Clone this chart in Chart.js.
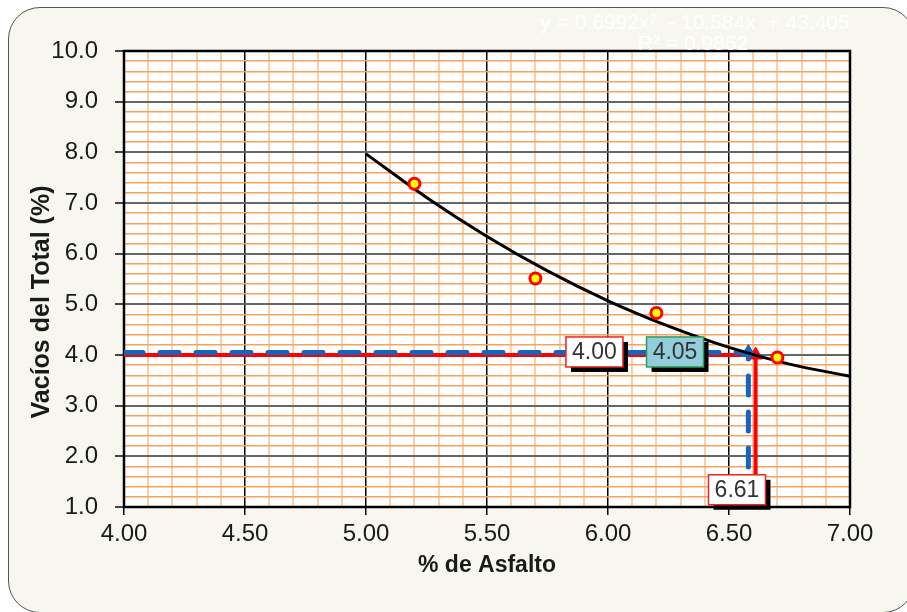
<!DOCTYPE html>
<html>
<head>
<meta charset="utf-8">
<script src="https://cdn.jsdelivr.net/npm/chart.js@4.4.1/dist/chart.umd.min.js"></script>
<style>
  body { margin: 0; background: #ffffff; width: 907px; height: 612px; overflow: hidden; position: relative; }
  #frame { position: absolute; left: 8px; top: 7px; width: 905px; height: 604px; border: 1.5px solid #555; border-radius: 32px; background: #f7f7f0; }
  #wrap { position: absolute; left: 0; top: 0; width: 907px; height: 612px; }
</style>
</head>
<body>
<div id="frame"></div>
<div id="wrap"><canvas id="vaciosChart" width="907" height="612"></canvas></div>
<script>
// axis ranges
const xMin = 4.0, xMax = 7.0, xStep = 0.1;
const yMin = 1.0, yMax = 10.0, yStep = 0.2;

// lab points: % asphalt vs air voids
const asfalto = [5.2, 5.7, 6.2, 6.7];
const vacios = [7.38, 5.51, 4.83, 3.95];

// polynomial trend
const trendX = [5.0, 5.25, 5.5, 5.75, 6.0, 6.25, 6.5, 6.75, 7.0];
const trendY = [7.97, 7.11, 6.34, 5.66, 5.07, 4.57, 4.15, 3.82, 3.58];

// target 4.0 % voids -> 6.61 % asphalt
const targetX = [4.0, 6.61, 6.61];
const targetY = [4.0, 4.0, 1.0];
// dashed 4.05 line
const designX = [4.0, 6.58, 6.58];
const designY = [4.05, 4.05, 1.0];

const boxTexts = ['4.00', '4.05', '6.61'];
const equationLines = ['y = 0.6992x\u00b2  - 10.584x  + 43.405', 'R\u00b2 = 0.9862'];
const xTitle = '% de Asfalto';
const yTitle = 'Vacíos del Total (%)';

const pts = (xs, ys) => xs.map((x, i) => ({ x: x, y: ys[i] }));
const isMajorX = v => Math.round(v * 10) % 5 === 0;
const isMajorY = v => Math.round(v * 10) % 10 === 0;

// label boxes, anchored in data units
const boxSpots = [
    { x: 5.944, y: 4.06, fill: '#ffffff', stroke: '#ee2222' },
    { x: 6.277, y: 4.06, fill: '#92cddc', stroke: '#2e9a5a' },
    { x: 6.533, y: 1.34, fill: '#ffffff', stroke: '#ee2222' }
];

const fontName = '"Liberation Sans", Arial, sans-serif';

const decorPlugin = {
    id: 'decor',
    beforeDraw(chart) {
        const { ctx, chartArea: a } = chart;
        ctx.save();
        ctx.fillStyle = '#ffffff';
        ctx.fillRect(a.left, a.top, a.right - a.left, a.bottom - a.top);
        ctx.restore();
    },
    beforeDatasetsDraw(chart) {
        const { ctx, chartArea: a } = chart;
        ctx.save();
        ctx.strokeStyle = '#000';
        ctx.lineWidth = 2.5;
        ctx.strokeRect(a.left, a.top, a.right - a.left, a.bottom - a.top);
        ctx.restore();
    },
    afterDatasetsDraw(chart) {
        const { ctx } = chart;
        const xs = chart.scales.x, ys = chart.scales.y;
        ctx.save();
        boxSpots.forEach((b, i) => {
            const cx = xs.getPixelForValue(b.x), cy = ys.getPixelForValue(b.y);
            const w = 57, h = 30;
            ctx.fillStyle = '#000';
            ctx.fillRect(cx - w / 2 + 5, cy - h / 2 + 5, w, h);
            ctx.fillStyle = b.fill;
            ctx.fillRect(cx - w / 2, cy - h / 2, w, h);
            ctx.strokeStyle = b.stroke;
            ctx.lineWidth = 1.5;
            ctx.strokeRect(cx - w / 2, cy - h / 2, w, h);
            ctx.fillStyle = '#333';
            ctx.font = '23px ' + fontName;
            ctx.textAlign = 'center';
            ctx.textBaseline = 'middle';
            ctx.fillText(boxTexts[i], cx, cy + 1);
        });
        ctx.restore();
    },
    afterDraw(chart) {
        const { ctx } = chart;
        ctx.save();
        // y axis title
        ctx.translate(42, 302);
        ctx.rotate(-Math.PI / 2);
        ctx.font = 'bold 25px ' + fontName;
        ctx.fillStyle = '#1a1a1a';
        ctx.textAlign = 'center';
        ctx.textBaseline = 'middle';
        ctx.fillText(yTitle, 0, 0);
        ctx.restore();
        // trend equation, white
        ctx.save();
        ctx.font = '21px ' + fontName;
        ctx.fillStyle = '#ffffff';
        ctx.textAlign = 'center';
        ctx.textBaseline = 'middle';
        ctx.fillText(equationLines[0], 695, 23);
        ctx.fillText(equationLines[1], 693, 44);
        ctx.restore();
    }
};

new Chart('vaciosChart', {
    type: 'scatter',
    data: {
        datasets: [
            {
                label: 'Ensayos',
                data: pts(asfalto, vacios),
                pointRadius: 5.5,
                pointBorderWidth: 3,
                pointBackgroundColor: '#ffff00',
                pointBorderColor: '#ff0000',
                showLine: false,
                order: 0
            },
            {
                label: 'Tendencia',
                data: pts(trendX, trendY),
                showLine: true,
                borderColor: '#000',
                borderWidth: 3,
                pointRadius: 0,
                cubicInterpolationMode: 'monotone',
                order: 1
            },
            {
                label: '4.05',
                data: pts(designX, designY),
                showLine: true,
                borderColor: '#1565c0',
                borderWidth: 5,
                borderDash: [19, 17],
                borderCapStyle: 'round',
                pointStyle: 'triangle',
                pointRadius: [0, 8, 0],
                pointBackgroundColor: '#1565c0',
                pointBorderColor: '#1565c0',
                pointBorderWidth: 1,
                order: 2
            },
            {
                label: '4.00',
                data: pts(targetX, targetY),
                showLine: true,
                borderColor: '#ff0000',
                borderWidth: 4,
                pointStyle: 'triangle',
                pointRadius: [0, 8, 0],
                pointBackgroundColor: '#ff0000',
                pointBorderColor: '#ff0000',
                pointBorderWidth: 1,
                order: 3
            }
        ]
    },
    options: {
        animation: false,
        responsive: false,
        events: [],
        layout: { padding: { left: 0, top: 51, right: 57, bottom: 0 } },
        plugins: {
            legend: { display: false },
            tooltip: { enabled: false }
        },
        scales: {
            x: {
                type: 'linear',
                min: xMin,
                max: xMax,
                afterFit: (s) => { s.height = 105; },
                border: { display: false },
                grid: {
                    color: (c) => (c.tick && isMajorX(c.tick.value)) ? '#000' : '#fccfa8',
                    lineWidth: (c) => (c.tick && isMajorX(c.tick.value)) ? 1.5 : 2,
                    tickColor: (c) => (c.tick && isMajorX(c.tick.value)) ? '#000' : 'rgba(0,0,0,0)',
                    tickLength: 8
                },
                ticks: {
                    stepSize: xStep,
                    autoSkip: false,
                    maxRotation: 0,
                    padding: 5,
                    color: '#1a1a1a',
                    font: { family: fontName, size: 24 },
                    callback: (v) => isMajorX(v) ? v.toFixed(2) : ''
                },
                title: {
                    display: true,
                    text: xTitle,
                    color: '#1a1a1a',
                    font: { family: fontName, size: 23, weight: 'bold' },
                    padding: { top: 0, bottom: 33 }
                }
            },
            y: {
                type: 'linear',
                min: yMin,
                max: yMax,
                afterFit: (s) => { s.width = 124; },
                border: { display: false },
                grid: {
                    color: (c) => (c.tick && isMajorY(c.tick.value)) ? '#666' : '#f7a35c',
                    lineWidth: (c) => (c.tick && isMajorY(c.tick.value)) ? 2 : 1.5,
                    tickColor: (c) => (c.tick && isMajorY(c.tick.value)) ? '#444' : 'rgba(0,0,0,0)',
                    tickLength: 9
                },
                ticks: {
                    stepSize: yStep,
                    autoSkip: false,
                    padding: 17,
                    color: '#1a1a1a',
                    font: { family: fontName, size: 24 },
                    callback: (v) => isMajorY(v) ? v.toFixed(1) : ''
                }
            }
        }
    },
    plugins: [decorPlugin]
});
</script>
</body>
</html>
